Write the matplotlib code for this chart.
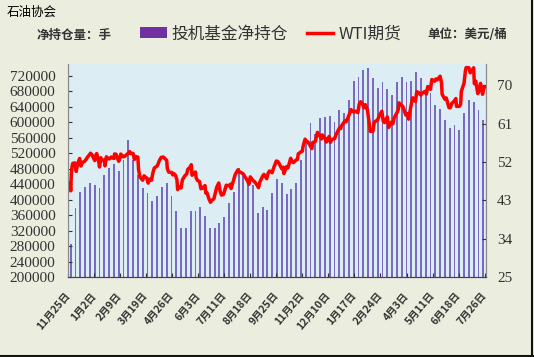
import pandas as pd
import matplotlib
matplotlib.use('Agg')
import matplotlib.pyplot as plt
from matplotlib.patches import Patch
from matplotlib.lines import Line2D


# Speculative net long positions (contracts), weekly from the first Tuesday
positionStart = '2016-11-29'
netPositions = [
    285000, 377000, 420000, 433000, 442000, 437000, 431000, 463000, 482000, 491000,
    474000, 503000, 555000, 503000, 463000, 431000, 416000, 397000, 408000, 433000,
    444000, 410000, 371000, 327000, 327000, 371000, 371000, 380000, 358000, 327000,
    327000, 340000, 356000, 392000, 420000, 481000, 463000, 442000, 437000, 365000,
    380000, 374000, 416000, 452000, 444000, 414000, 428000, 444000, 503000, 545000,
    597000, 570000, 610000, 613000, 616000, 601000, 631000, 623000, 657000, 707000,
    717000, 734000, 739000, 713000, 687000, 704000, 685000, 670000, 703000, 717000,
    704000, 707000, 729000, 713000, 674000, 674000, 644000, 633000, 605000, 584000,
    593000, 580000, 624000, 657000, 653000, 631000, 605000]

# WTI futures (USD/bbl)
wtiDates = [
    '2016-11-25', '2016-11-28', '2016-11-29', '2016-11-30', '2016-12-01', '2016-12-02',
    '2016-12-05', '2016-12-07', '2016-12-09', '2016-12-12', '2016-12-14', '2016-12-16',
    '2016-12-19', '2016-12-21', '2016-12-23', '2016-12-28', '2016-12-30',
    '2017-01-03', '2017-01-05', '2017-01-06', '2017-01-09', '2017-01-10', '2017-01-12',
    '2017-01-13', '2017-01-17', '2017-01-18', '2017-01-20', '2017-01-23', '2017-01-25',
    '2017-01-27', '2017-01-31', '2017-02-01', '2017-02-03', '2017-02-07', '2017-02-09',
    '2017-02-10', '2017-02-14', '2017-02-16', '2017-02-21', '2017-02-23', '2017-02-24',
    '2017-02-28', '2017-03-02', '2017-03-03', '2017-03-07', '2017-03-08', '2017-03-09',
    '2017-03-10', '2017-03-14', '2017-03-16', '2017-03-20', '2017-03-22', '2017-03-24',
    '2017-03-27', '2017-03-29', '2017-03-31', '2017-04-04', '2017-04-06', '2017-04-07',
    '2017-04-10', '2017-04-12', '2017-04-13', '2017-04-18', '2017-04-19', '2017-04-21',
    '2017-04-25', '2017-04-27', '2017-04-28', '2017-05-01', '2017-05-03', '2017-05-04',
    '2017-05-05', '2017-05-09', '2017-05-11', '2017-05-15', '2017-05-17', '2017-05-19',
    '2017-05-22', '2017-05-24', '2017-05-25', '2017-05-30', '2017-05-31', '2017-06-02',
    '2017-06-05', '2017-06-07', '2017-06-09', '2017-06-13', '2017-06-14', '2017-06-16',
    '2017-06-19', '2017-06-21', '2017-06-23', '2017-06-26', '2017-06-28', '2017-06-30',
    '2017-07-03', '2017-07-05', '2017-07-07', '2017-07-10', '2017-07-12', '2017-07-14',
    '2017-07-18', '2017-07-20', '2017-07-21', '2017-07-25', '2017-07-27', '2017-07-31',
    '2017-08-02', '2017-08-04', '2017-08-08', '2017-08-10', '2017-08-14', '2017-08-16',
    '2017-08-18', '2017-08-22', '2017-08-24', '2017-08-28', '2017-08-30', '2017-09-01',
    '2017-09-05', '2017-09-07', '2017-09-11', '2017-09-13', '2017-09-15', '2017-09-19',
    '2017-09-21', '2017-09-25', '2017-09-27', '2017-09-29', '2017-10-03', '2017-10-05',
    '2017-10-06', '2017-10-10', '2017-10-12', '2017-10-16', '2017-10-18', '2017-10-20',
    '2017-10-24', '2017-10-26', '2017-10-27', '2017-10-31', '2017-11-02', '2017-11-03',
    '2017-11-06', '2017-11-08', '2017-11-10', '2017-11-14', '2017-11-16', '2017-11-17',
    '2017-11-21', '2017-11-24', '2017-11-28', '2017-11-30', '2017-12-01', '2017-12-05',
    '2017-12-07', '2017-12-11', '2017-12-13', '2017-12-15', '2017-12-19', '2017-12-21',
    '2017-12-26', '2017-12-28', '2017-12-29',
    '2018-01-03', '2018-01-05', '2018-01-09', '2018-01-11', '2018-01-12', '2018-01-16',
    '2018-01-18', '2018-01-22', '2018-01-24', '2018-01-26', '2018-01-29', '2018-01-31',
    '2018-02-02', '2018-02-05', '2018-02-07', '2018-02-09', '2018-02-13', '2018-02-15',
    '2018-02-20', '2018-02-22', '2018-02-26', '2018-02-28', '2018-03-02', '2018-03-06',
    '2018-03-08', '2018-03-12', '2018-03-14', '2018-03-16', '2018-03-20', '2018-03-22',
    '2018-03-23', '2018-03-27', '2018-03-29', '2018-04-02', '2018-04-04', '2018-04-06',
    '2018-04-10', '2018-04-12', '2018-04-16', '2018-04-18', '2018-04-20', '2018-04-24',
    '2018-04-26', '2018-04-30', '2018-05-02', '2018-05-04', '2018-05-08', '2018-05-10',
    '2018-05-14', '2018-05-16', '2018-05-18', '2018-05-22', '2018-05-24', '2018-05-25',
    '2018-05-29', '2018-05-31', '2018-06-04', '2018-06-06', '2018-06-08', '2018-06-12',
    '2018-06-14', '2018-06-15', '2018-06-19', '2018-06-21', '2018-06-22', '2018-06-26',
    '2018-06-28', '2018-06-29', '2018-07-03', '2018-07-05', '2018-07-09', '2018-07-10',
    '2018-07-11', '2018-07-13', '2018-07-16', '2018-07-18', '2018-07-20', '2018-07-23',
    '2018-07-25', '2018-07-26']
wtiPrices = [
    46.06, 47.08, 45.23, 49.44, 51.06, 51.68,
    51.79, 49.77, 51.50, 52.83, 51.04, 51.90,
    52.12, 52.49, 53.02, 54.06, 53.72,
    52.33, 53.76, 53.99, 51.96, 50.82, 53.01,
    52.37, 52.48, 51.08, 53.22, 52.75, 52.75,
    53.17, 52.81, 53.88, 53.83, 52.17, 53.00,
    53.86, 53.20, 53.36, 54.06, 54.45, 53.99,
    54.01, 52.61, 53.33, 53.14, 50.28, 49.28,
    48.49, 47.72, 48.75, 48.22, 47.04, 47.97,
    47.73, 49.51, 50.60, 51.03, 51.70, 52.24,
    53.08, 53.11, 53.18, 52.41, 50.44, 49.62,
    49.56, 48.97, 49.33, 48.84, 47.82, 45.52,
    46.22, 45.88, 47.83, 48.85, 49.07, 50.33,
    50.73, 51.36, 48.90, 49.66, 48.32, 47.66,
    47.40, 45.72, 45.83, 46.46, 44.73, 44.74,
    43.20, 42.53, 43.01, 43.38, 44.74, 46.04,
    47.07, 45.13, 44.23, 44.40, 45.49, 46.54,
    46.40, 46.79, 45.77, 47.89, 49.04, 50.17,
    49.59, 49.58, 49.17, 48.59, 47.59, 46.78,
    48.51, 47.64, 47.43, 46.57, 45.96, 47.29,
    48.66, 49.09, 48.07, 49.30, 49.89, 49.48,
    50.55, 52.22, 52.14, 51.67, 50.42, 50.79,
    49.29, 50.92, 50.60, 52.87, 52.04, 51.84,
    52.47, 52.64, 53.90, 54.38, 54.54, 55.64,
    57.35, 56.81, 56.74, 55.70, 55.14, 56.55,
    56.83, 58.95, 57.99, 57.40, 58.36, 57.62,
    56.69, 57.99, 56.60, 57.30, 57.46, 58.36,
    59.97, 59.84, 60.42,
    61.63, 61.44, 62.96, 63.80, 64.30, 63.73,
    63.95, 63.57, 65.61, 66.14, 65.56, 64.73,
    65.45, 64.15, 61.79, 59.20, 59.19, 61.34,
    61.90, 62.77, 63.91, 61.64, 61.25, 62.60,
    60.12, 61.36, 60.96, 62.34, 63.54, 64.30,
    65.88, 65.25, 64.94, 63.01, 63.37, 62.06,
    65.51, 67.07, 66.22, 68.47, 68.38, 67.70,
    68.19, 68.57, 67.93, 69.72, 69.06, 71.36,
    70.96, 71.49, 71.28, 72.13, 70.71, 67.88,
    66.73, 67.04, 64.75, 64.73, 65.74, 66.36,
    66.89, 65.06, 65.07, 65.54, 68.58, 70.53,
    73.45, 74.15, 74.14, 72.94, 73.85, 74.11,
    70.38, 71.01, 68.06, 68.76, 70.46, 67.89,
    69.30, 69.61]

tickLabels = ['11月25日', '1月2日', '2月9日', '3月19日', '4月26日', '6月3日',
              '7月11日', '8月18日', '9月25日', '11月2日', '12月10日', '1月17日',
              '2月24日', '4月3日', '5月11日', '6月18日', '7月26日']

positionDates = pd.date_range(positionStart, periods=len(netPositions), freq='7D')
priceDates = pd.to_datetime(wtiDates)
tickDates = pd.date_range('2016-11-25', periods=len(tickLabels), freq='38D')

cjk = ['Noto Sans CJK SC', 'DejaVu Sans']
plt.rcParams['font.family'] = ['Liberation Serif', 'Noto Sans CJK SC']

fig = plt.figure(figsize=(5.34, 3.57), dpi=100)
fig.patch.set_facecolor('#ebeedf')
ax = fig.add_axes([0.1273, 0.2241, 0.7828, 0.5966])
ax.set_facecolor('#dcedf3')

barColor = '#776ac0'
ax.bar(positionDates, netPositions, width=2.7, color=barColor, linewidth=0)

ax.set_ylim(200000, 750000)
ax.set_yticks(range(200000, 720001, 40000))
ax.set_xlim(pd.Timestamp('2016-11-25'), pd.Timestamp('2018-07-28'))
ax.set_xticks(tickDates)
ax.set_xticklabels(tickLabels, rotation=50, ha='right', va='center',
                   rotation_mode='anchor', family=cjk, fontsize=7.5,
                   fontweight='bold', color='#6e6e6e')
ax.tick_params(axis='y', direction='in', length=3, pad=9, labelsize=11,
               colors='#333333')
ax.tick_params(axis='x', direction='in', length=3, pad=12, colors='#333333')

ax2 = ax.twinx()
ax2.plot(priceDates, wtiPrices, color='#ff0000', linewidth=2.5)
ax2.set_ylim(25, 75)
ax2.set_yticks(range(25, 71, 9))
ax2.tick_params(axis='y', direction='in', length=3, pad=8, labelsize=11,
                colors='#333333')

for a in (ax, ax2):
    a.spines['top'].set_visible(False)
    a.spines['left'].set_color('#8a8a8a')
    a.spines['right'].set_color('#8a8a8a')
    a.spines['bottom'].set_color('#444444')

# Header texts
fig.text(0.013, 0.966, '石油协会', fontsize=9, family=cjk, va='center')
fig.text(0.069, 0.902, '净持仓量：手', fontsize=9, family=cjk,
         fontweight='bold', color='#333333', va='center')
fig.text(0.801, 0.902, '单位：美元/桶', fontsize=9, family=cjk,
         fontweight='bold', color='#333333', va='center')

handles = [Patch(facecolor='#7030a0'),
           Line2D([], [], color='#ff0000', linewidth=2.5)]
fig.legend(handles, ['投机基金净持仓', 'WTI期货'], loc='center left',
           bbox_to_anchor=(0.247, 0.905), ncol=2, frameon=False,
           prop={'family': cjk, 'size': 12}, labelcolor='#333333',
           borderpad=0, handlelength=1.6, handleheight=0.7,
           handletextpad=0.3, columnspacing=1.1)

# dark frame on right and bottom edge
fig.add_artist(Line2D([0, 1], [0.003, 0.003], transform=fig.transFigure,
                      color='#111111', linewidth=1.5))
fig.add_artist(Line2D([0.997, 0.997], [0, 1], transform=fig.transFigure,
                      color='#111111', linewidth=1.5))

fig.savefig('out.png', dpi=100, facecolor=fig.get_facecolor())
